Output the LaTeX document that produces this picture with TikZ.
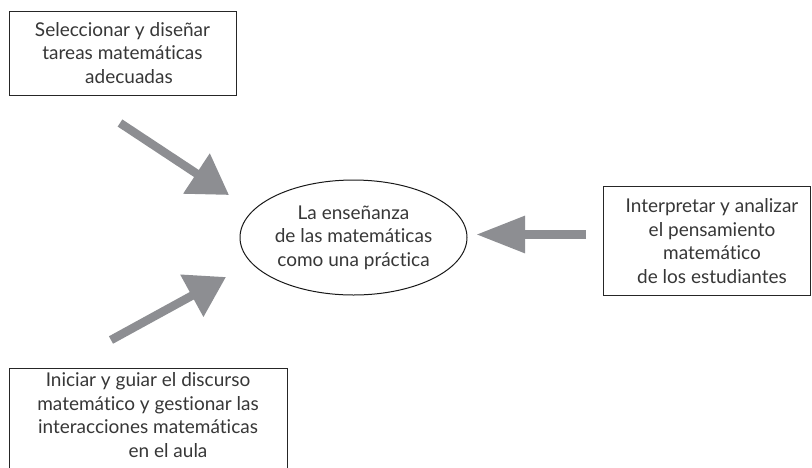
\documentclass[tikz,border=0pt]{standalone}
\usepackage{fontspec}
\setmainfont{Lato}[Ligatures=NoCommon]
\usetikzlibrary{arrows.meta,shapes.geometric}
\definecolor{arrowgray}{RGB}{141,142,146}
\definecolor{textgray}{RGB}{55,55,55}
\tikzset{
  txt/.style={font=\fontsize{19}{23.5}\selectfont, text=textgray, align=center, inner sep=0pt},
  boxnode/.style={draw=black!85, line width=1pt, rectangle, inner sep=0pt},
  ellnode/.style={draw=black!90, line width=1pt, ellipse, inner sep=0pt},
  bigarrow/.style={draw=arrowgray, line width=8.5pt, -{Triangle[length=39pt,width=46pt]}},
  sidearrow/.style={draw=arrowgray, line width=9pt, -{Triangle[length=49pt,width=35pt]}}
}
\begin{document}
\begin{tikzpicture}[x=1pt,y=-1pt]
\useasboundingbox (0,0) rectangle (812,467);
\clip (0,0) rectangle (812,467);
\fill[white] (0,0) rectangle (812,467);

\node[boxnode, txt, minimum width=227pt, minimum height=84pt] (sel) at (122.5,53)
  {Seleccionar y diseñar\\tareas matemáticas\\\hspace*{13pt}adecuadas};

\node[ellnode, txt, minimum width=227pt, minimum height=115pt] (ens) at (353.5,237.5)
  {La enseñanza\\de las matemáticas\\como una práctica};

\node[boxnode, minimum width=207pt, minimum height=109pt] (int) at (706.5,240.5) {};
\node[txt] (inttxt) at (712,241)
  {Interpretar y analizar\\el pensamiento\\matemático\\de los estudiantes};

\node[boxnode, minimum width=278pt, minimum height=120pt, anchor=north] (ini) at (148,368) {};
\node[txt] (initxt) at (148,415)
  {Iniciar y guiar el discurso\\matemático y gestionar las\\interacciones matemáticas\\\hspace*{40pt}en el aula};

\coordinate (a1s) at (120,123);
\coordinate (a1e) at (229,195);
\coordinate (a2s) at (111,340);
\coordinate (a2e) at (226,277);
\coordinate (a3s) at (586,234.5);
\coordinate (a3e) at (476,234.5);

\draw[bigarrow] (a1s) -- (a1e);
\draw[bigarrow] (a2s) -- (a2e);
\draw[sidearrow] (a3s) -- (a3e);
\end{tikzpicture}
\end{document}
